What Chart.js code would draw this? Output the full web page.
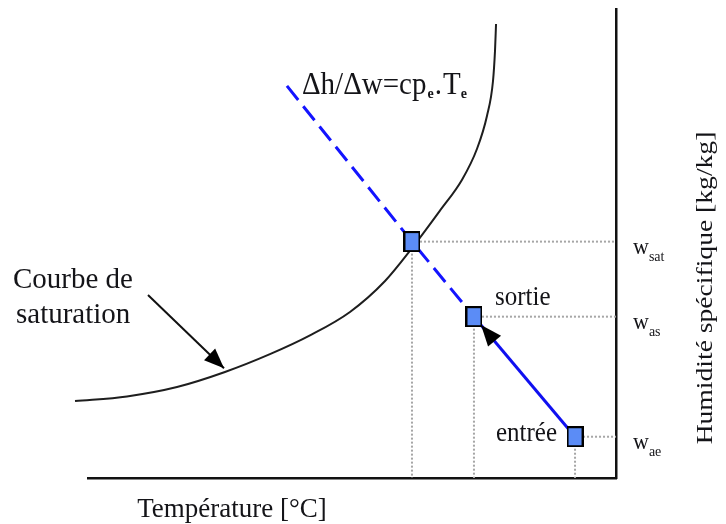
<!DOCTYPE html>
<html>
<head>
<meta charset="utf-8">
<script src="https://cdn.jsdelivr.net/npm/chart.js@4.4.1/dist/chart.umd.min.js"></script>
<style>
  html, body { margin: 0; padding: 0; background: #ffffff; }
  #wrap { width: 726px; height: 524px; }
</style>
</head>
<body>
<div id="wrap"><canvas id="c" width="726" height="524"></canvas></div>
<script>
// ---- data (temperature in °C, specific humidity in kg/kg) ----
const satTemp = [-1.23, 3.69, 8.43, 12.97, 17.23, 21.02, 24.81, 28.13, 30.68, 33.33, 35.42, 36.84, 37.78, 38.35, 38.54, 38.64];
const satHum  = [0.0082, 0.0087, 0.0097, 0.0113, 0.0132, 0.0152, 0.0177, 0.0210, 0.0245, 0.0285, 0.0318, 0.0351, 0.0386, 0.0423, 0.0455, 0.0484];

const stateNames = ['sat', 'as', 'ae'];          // saturation, sortie, entrée
const stateTemp  = [30.68, 36.55, 46.12];
const stateHum   = [0.0252, 0.0172, 0.0044];

const lineStartTemp = 18.84;   // start of the Δh/Δw line
const lineStartHum  = 0.0418;

const curveArrowTemp = [5.68, 12.88];   // "Courbe de saturation" pointer
const curveArrowHum  = [0.0195, 0.0117];

const xMin = 0, xMax = 50, yMin = 0, yMax = 0.05;

// ---- derived ----
const pt = (i) => ({ x: stateTemp[i], y: stateHum[i] });
const satData = satTemp.map((t, i) => ({ x: t, y: satHum[i] }));
const SERIF = "'Liberation Serif', 'Times New Roman', serif";

// marker image (slightly tall square)
const mk = document.createElement('canvas');
mk.width = 17; mk.height = 21;
(function () {
  const c = mk.getContext('2d');
  c.fillStyle = '#5b8cf6';
  c.fillRect(1, 1, 15, 19);
  c.strokeStyle = '#000';
  c.lineWidth = 2;
  c.strokeRect(1, 1, 15, 19);
})();

const guideStyle = { borderColor: '#a6a6a6', borderWidth: 2, borderDash: [2, 2], pointRadius: 0, showLine: true, clip: false, order: 5 };
const guides = [];
stateTemp.forEach((t, i) => {
  guides.push(Object.assign({ data: [pt(i), { x: xMax, y: stateHum[i] }] }, guideStyle));
  guides.push(Object.assign({ data: [pt(i), { x: t, y: yMin }] }, guideStyle));
});

function txt(ctx, s, x, y, font, sy, align) {
  ctx.save();
  ctx.translate(x, y);
  ctx.scale(1, sy || 1.1);
  ctx.font = font + ' ' + SERIF;
  ctx.textAlign = align || 'left';
  ctx.textBaseline = 'alphabetic';
  ctx.fillText(s, 0, 0);
  const w = ctx.measureText(s).width;
  ctx.restore();
  return w;
}

function arrowHead(ctx, tx, ty, fx, fy, len, half) {
  const dx = tx - fx, dy = ty - fy, L = Math.hypot(dx, dy);
  const ux = dx / L, uy = dy / L;
  const bx = tx - ux * len, by = ty - uy * len;
  ctx.beginPath();
  ctx.moveTo(tx, ty);
  ctx.lineTo(bx - uy * half, by + ux * half);
  ctx.lineTo(bx + uy * half, by - ux * half);
  ctx.closePath();
  ctx.fill();
}

const annot = {
  id: 'annot',
  afterDatasetsDraw(chart) {
    const ctx = chart.ctx, xs = chart.scales.x, ys = chart.scales.y, ca = chart.chartArea;
    const X = (v) => xs.getPixelForValue(v), Y = (v) => ys.getPixelForValue(v);
    ctx.save();
    ctx.fillStyle = '#000';
    // arrowhead of saturation pointer
    arrowHead(ctx, X(curveArrowTemp[1]), Y(curveArrowHum[1]), X(curveArrowTemp[0]), Y(curveArrowHum[0]), 20, 8);
    // arrowhead of the process line (entrée -> sortie)
    const sx = X(stateTemp[1]), sy = Y(stateHum[1]), ex = X(stateTemp[2]), ey = Y(stateHum[2]);
    const L = Math.hypot(ex - sx, ey - sy);
    const tx = sx + (ex - sx) / L * 11, ty = sy + (ey - sy) / L * 11;
    arrowHead(ctx, tx, ty, ex, ey, 21, 8.5);

    ctx.fillStyle = '#141418';
    // formula
    const fx = X(lineStartTemp) + 15, fy = Y(lineStartHum) + 8;
    let w = txt(ctx, 'Δh/Δw=cp', fx, fy, '29px', 1.1);
    let w2 = txt(ctx, 'e', fx + w + 1, fy + 4, 'bold 14px', 1.0);
    let w3 = txt(ctx, '.', fx + w + w2 + 2, fy, '29px', 1.1);
    let w4 = txt(ctx, 'T', fx + w + w2 + w3 + 3, fy, '29px', 1.1);
    txt(ctx, 'e', fx + w + w2 + w3 + w4 + 3, fy + 4, 'bold 14px', 1.0);

    // Courbe de saturation
    const ax = X(curveArrowTemp[0]), ay = Y(curveArrowHum[0]);
    txt(ctx, 'Courbe de', ax - 135, ay - 7, '29px', 1.05);
    txt(ctx, 'saturation', ax - 132, ay + 28, '29px', 1.05);

    // sortie / entrée
    txt(ctx, 'sortie', sx + 21, sy - 12, '25px', 1.1);
    txt(ctx, 'entrée', ex - 18, ey + 4, '25px', 1.1, 'right');

    // w labels on right
    stateNames.forEach((n, i) => {
      const lx = ca.right + 17, ly = Y(stateHum[i]) + 12;
      const ww = txt(ctx, 'w', lx, ly, '22px', 1.05);
      txt(ctx, n, lx + ww, ly + 7, '14px', 1.0);
    });

    // axis titles
    txt(ctx, 'Température [°C]', ca.left + 144, ca.bottom + 39, '27px', 1.05, 'center');
    ctx.save();
    ctx.translate(ca.right + 96, 288);
    ctx.rotate(-Math.PI / 2);
    ctx.scale(1.2, 1);
    ctx.font = '23px ' + SERIF;
    ctx.textAlign = 'center';
    ctx.textBaseline = 'alphabetic';
    ctx.fillText('Humidité spécifique [kg/kg]', 0, 0);
    ctx.restore();
    ctx.restore();
  }
};

new Chart(document.getElementById('c'), {
  type: 'scatter',
  data: {
    datasets: [
      { data: [pt(0), pt(1), pt(2)], pointStyle: mk, pointRadius: 8, showLine: false, clip: false, order: 0 },
      { data: satData, showLine: true, borderColor: '#1e1e1e', borderWidth: 2, cubicInterpolationMode: 'monotone', pointRadius: 0, clip: false, order: 3 },
      { data: [{ x: lineStartTemp, y: lineStartHum }, pt(0), pt(1)], showLine: true, borderColor: '#1414ff', borderWidth: 3, borderDash: [18, 8], pointRadius: 0, clip: false, order: 2 },
      { data: [pt(2), pt(1)], showLine: true, borderColor: '#1010f0', borderWidth: 3, pointRadius: 0, clip: false, order: 1 },
      { data: curveArrowTemp.map((t, i) => ({ x: t, y: curveArrowHum[i] })), showLine: true, borderColor: '#111', borderWidth: 2, pointRadius: 0, clip: false, order: 4 },
      ...guides
    ]
  },
  options: {
    responsive: false,
    animation: false,
    events: [],
    layout: { padding: { left: 88, top: 8, right: 0, bottom: 0 } },
    plugins: { legend: { display: false }, tooltip: { enabled: false }, title: { display: false } },
    scales: {
      x: {
        type: 'linear', min: xMin, max: xMax,
        grid: { display: true, drawOnChartArea: false, drawTicks: false },
        border: { display: true, color: '#111', width: 2.5 },
        ticks: { display: false },
        afterFit: (s) => { s.height = 46; }
      },
      y: {
        type: 'linear', position: 'right', min: yMin, max: yMax,
        grid: { display: true, drawOnChartArea: false, drawTicks: false },
        border: { display: true, color: '#111', width: 2.5 },
        ticks: { display: false },
        afterFit: (s) => { s.width = 110; }
      }
    }
  },
  plugins: [annot]
});
</script>
</body>
</html>
